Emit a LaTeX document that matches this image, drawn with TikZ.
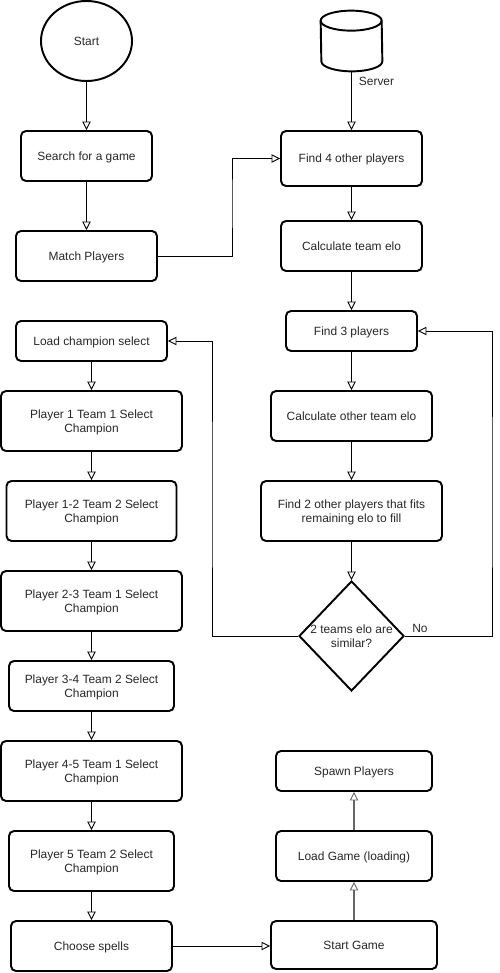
\documentclass[tikz,border=0pt]{standalone}
\usepackage{fontspec}
\setmainfont{Liberation Sans}
\usetikzlibrary{arrows.meta,shapes.geometric}
\tikzset{
	flowbox/.style={draw, line width=1.1pt, rounded corners=0.1cm, inner sep=0pt, align=center, text depth=-0.4pt},
	startcircle/.style={draw, ellipse, line width=1.1pt, inner sep=0pt},
	serverdb/.style={inner sep=0pt, minimum width=1.22cm, minimum height=1.2cm},
	serverline/.style={line width=1.1pt},
	decbox/.style={draw, diamond, line width=1.1pt, inner sep=0pt},
	flowtext/.style={inner sep=0pt, align=center},
	flow/.style={line width=0.5pt, -{Triangle[open, length=0.17cm, width=0.17cm, line width=0.5pt]}},
	flowgray/.style={flow, line width=0.9pt, color=black!60},
	every node/.append style={font=\fontsize{6.8}{8}\selectfont, text=black!85}
}
\begin{document}
\begin{tikzpicture}
	\useasboundingbox (0, 0) rectangle (10, -19.46);
	% left column
	\node [startcircle, minimum width=1.82cm, minimum height=1.6cm] (start) at (1.73, -0.82) {Start};
	\node [flowbox, minimum width=2.62cm, minimum height=1cm] (search) at (1.73, -3.12) {Search for a game};
	\node [flowbox, minimum width=2.82cm, minimum height=1cm] (match) at (1.73, -5.12) {Match Players};
	\node [flowbox, minimum width=3.02cm, minimum height=0.8cm] (loadsel) at (1.83, -6.82) {Load champion select};
	\node [flowbox, minimum width=3.62cm, minimum height=1.2cm] (pick1) at (1.83, -8.42) {Player 1 Team 1 Select\\Champion};
	\node [flowbox, minimum width=3.4cm, minimum height=1.2cm] (pick2) at (1.83, -10.22) {Player 1-2 Team 2 Select\\Champion};
	\node [flowbox, minimum width=3.62cm, minimum height=1.2cm] (pick3) at (1.83, -12.02) {Player 2-3 Team 1 Select\\Champion};
	\node [flowbox, minimum width=3.3cm, minimum height=1cm] (pick4) at (1.83, -13.72) {Player 3-4 Team 2 Select\\Champion};
	\node [flowbox, minimum width=3.62cm, minimum height=1.2cm] (pick5) at (1.83, -15.42) {Player 4-5 Team 1 Select\\Champion};
	\node [flowbox, minimum width=3.3cm, minimum height=1.2cm] (pick6) at (1.83, -17.22) {Player 5 Team 2 Select\\Champion};
	\node [flowbox, minimum width=3.22cm, minimum height=1cm] (spells) at (1.83, -18.92) {Choose spells};
	% right column
	\node [serverdb] (server) at (7.03, -0.82) {};
	\draw [serverline] ([yshift=-0.2cm]server.north west) arc (180:0:0.61 and 0.2) -- ([yshift=0.2cm]server.south east) arc (0:-180:0.61 and 0.2) -- cycle;
	\draw [serverline] ([yshift=-0.2cm]server.north west) arc (180:360:0.61 and 0.2);
	\node [flowtext] (serverlabel) at (7.53, -1.62) {Server};
	\node [flowbox, minimum width=2.82cm, minimum height=1.1cm] (find4) at (7.03, -3.17) {Find 4 other players};
	\node [flowbox, minimum width=2.82cm, minimum height=1cm] (calc) at (7.03, -4.92) {Calculate team elo};
	\node [flowbox, minimum width=2.62cm, minimum height=0.8cm] (find3) at (7.03, -6.62) {Find 3 players};
	\node [flowbox, minimum width=3.22cm, minimum height=1cm] (calcother) at (7.03, -8.32) {Calculate other team elo};
	\node [flowbox, minimum width=3.62cm, minimum height=1.2cm] (find2) at (7.03, -10.22) {Find 2 other players that fits\\remaining elo to fill};
	\node [decbox, minimum width=2.1cm, minimum height=2.2cm] (similar) at (7.03, -12.72) {};
	\node [flowtext] (similartext) at (7.03, -12.72) {2 teams elo are\\similar?};
	\node [flowtext] (nolabel) at (8.4, -12.57) {No};
	\node [flowbox, minimum width=3.12cm, minimum height=0.8cm] (spawn) at (7.08, -15.42) {Spawn Players};
	\node [flowbox, minimum width=3.12cm, minimum height=1cm] (loadgame) at (7.08, -17.12) {Load Game (loading)};
	\node [flowbox, minimum width=3.32cm, minimum height=0.96cm] (startgame) at (7.08, -18.9) {Start Game};
	\coordinate (midrun) at (4.64, -4);
	\coordinate (leftrun) at (4.24, -10);
	\coordinate (rightrun) at (9.84, -10);
	% connectors
	\draw [flow] (start) to (search);
	\draw [flow] (search) to (match);
	\draw [flow] (loadsel) to (pick1);
	\draw [flow] (pick1) to (pick2);
	\draw [flow] (pick2) to (pick3);
	\draw [flow] (pick3) to (pick4);
	\draw [flow] (pick4) to (pick5);
	\draw [flow] (pick5) to (pick6);
	\draw [flow] (pick6) to (spells);
	\draw [flow] (server) to (find4);
	\draw [flow] (find4) to (calc);
	\draw [flow] (calc) to (find3);
	\draw [flow] (find3) to (calcother);
	\draw [flow] (calcother) to (find2);
	\draw [flow] (find2) to (similar);
	\draw [flow] (match.east) -| (midrun) |- (find4.west);
	\draw [flow] (similar.west) -| (leftrun) |- (loadsel.east);
	\draw [flow] (similar.east) -| (rightrun) |- (find3.east);
	\draw [flow] (spells.east) to (spells.east -| startgame.west);
	\draw [flowgray] (startgame) to (loadgame);
	\draw [flowgray] (loadgame) to (spawn);
\end{tikzpicture}
\end{document}
